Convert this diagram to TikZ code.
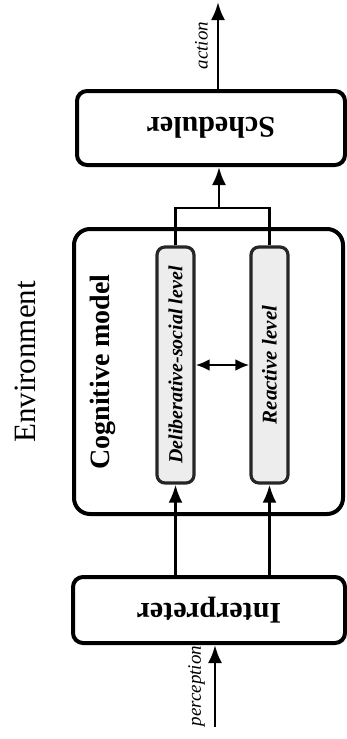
\documentclass[tikz,border=0pt]{standalone}
\usepackage{fontspec}
\setmainfont{Liberation Serif}
\usetikzlibrary{arrows.meta}
\begin{document}
\begin{tikzpicture}[x=0.5pt,y=-0.5pt,
    caja/.style={draw=black,line width=2pt,rounded corners=5pt,inner sep=0pt},
    nivel/.style={draw=black!85,fill=black!7,line width=1.6pt,rounded corners=4pt,
      inner sep=0pt,minimum width=18.5pt,minimum height=118pt},
    flecha/.style={line width=1.4pt,-{Latex[length=9pt,width=7pt]}}]
    \useasboundingbox (0,0) rectangle (347,739);
    % Cajas
    \node[caja,minimum width=134pt,minimum height=37pt] (sched) at (211,128)
      {\rotatebox{180}{\fontsize{15}{17}\selectfont\bfseries Scheduler}};
    \node[caja,rounded corners=8pt,minimum width=134.5pt,minimum height=142.5pt] (cog) at (208.5,371.5) {};
    \node[caja,minimum width=136pt,minimum height=33pt] (interp) at (209,610)
      {\rotatebox{180}{\fontsize{15}{17}\selectfont\bfseries Interpreter}};
    \node[nivel] (delib) at (175.5,365)
      {\rotatebox{90}{\fontsize{10}{12}\selectfont\bfseries\itshape Deliberative-social level}};
    \node[nivel] (reac) at (269.5,365)
      {\rotatebox{90}{\fontsize{10.5}{12}\selectfont\bfseries\itshape Reactive level}};
    % Textos
    \node (env) at (25,362) {\rotatebox{90}{\fontsize{15.5}{18}\selectfont Environment}};
    \node (cogtitle) at (103,372) {\rotatebox{90}{\fontsize{14}{16}\selectfont\bfseries Cognitive model}};
    % Flechas
    \coordinate (act) at (218,2);
    \coordinate (perc) at (215,727);
    \coordinate (join) at (219,208);
    \draw[flecha] (perc) -- (perc |- interp.south)
      node[pos=0.5,left=1pt] (perctext) {\rotatebox{90}{\fontsize{9.5}{11}\selectfont\itshape perception}};
    \draw[flecha] (delib.south |- interp.north) -- (delib.south);
    \draw[flecha] (reac.south |- interp.north) -- (reac.south);
    \draw[line width=1.4pt,{Latex[length=7pt,width=6pt]}-{Latex[length=7pt,width=6pt]}] (delib) -- (reac);
    \draw[line width=1.4pt] (delib.north) |- (join) -| (reac.north);
    \draw[flecha] (join) -- (join |- sched.south);
    \draw[flecha] (act |- sched.north) -- (act)
      node[pos=0.5,left=1pt] (acttext) {\rotatebox{90}{\fontsize{9.5}{11}\selectfont\itshape action}};
  \end{tikzpicture}
\end{document}
